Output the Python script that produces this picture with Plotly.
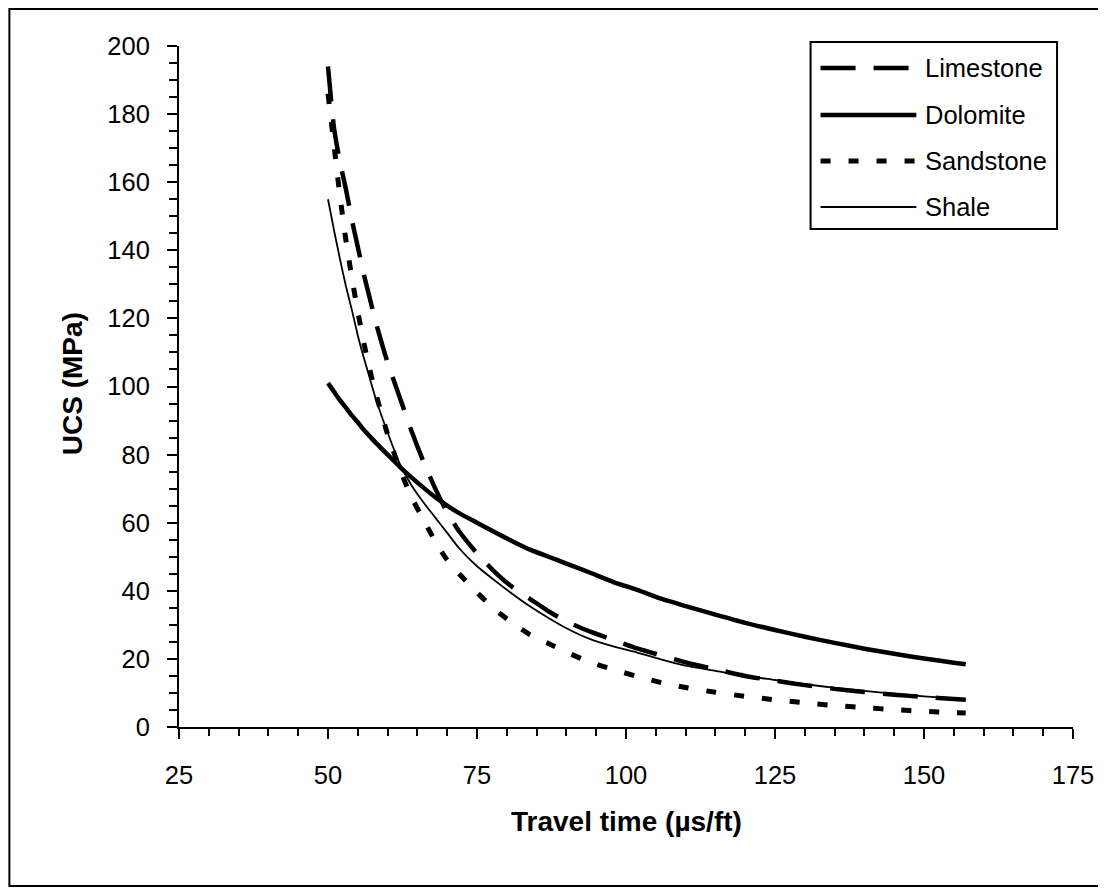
import plotly.graph_objects as go

# ---- data ----
travel_time = [50, 51, 52, 53, 54, 55, 56, 57, 58, 60, 62, 64, 66, 68, 70, 72, 75, 78, 81, 84,
               87, 90, 94, 98, 102, 106, 110, 115, 120, 125, 130, 135, 140, 145, 150, 155, 157]
limestone = [194, 176, 166, 158, 149, 141, 133, 126, 119, 107, 97, 87, 78, 70, 63, 57.5, 51, 45.5, 41, 37.5,
             34, 31, 28, 25.5, 23, 21, 19, 17, 15, 13.6, 12.3, 11.2, 10.3, 9.5, 8.8, 8.2, 8.0]
dolomite = [101, 98.5, 96, 93.8, 91.5, 89.5, 87.3, 85.4, 83.5, 80, 76.5, 73.3, 70.3, 67.5, 65, 62.8, 60, 57.2, 54.5, 52,
            50, 48, 45.3, 42.5, 40.2, 37.6, 35.5, 33, 30.6, 28.5, 26.5, 24.7, 23, 21.5, 20.1, 18.9, 18.4]
sandstone = [186, 171, 156, 143, 132, 122, 113, 105, 98, 86, 76, 67.5, 61, 54.5, 49, 45, 39.5, 34.5, 30.5, 27,
             24.5, 22, 19, 16.8, 14.8, 13, 11.6, 10.2, 9, 8, 7.1, 6.3, 5.7, 5.1, 4.6, 4.2, 4.1]
shale = [155, 146, 137.5, 129.5, 122.5, 115, 108.5, 102.5, 96.5, 86.5, 77.5, 71, 66, 61.5, 57, 52.5, 47.2, 43, 39, 35.3,
         32, 29, 25.8, 23.6, 21.8, 19.8, 18, 16.5, 15, 13.8, 12.6, 11.5, 10.6, 9.8, 9, 8.4, 8.1]

names = ["Limestone", "Dolomite", "Sandstone", "Shale"]
series = [limestone, dolomite, sandstone, shale]
x_ticks = [25, 50, 75, 100, 125, 150, 175]
y_ticks = [0, 20, 40, 60, 80, 100, 120, 140, 160, 180, 200]

styles = {
    "Limestone": dict(color="black", width=4.5, dash="35px,18px"),
    "Dolomite": dict(color="black", width=4.5, dash="solid"),
    "Sandstone": dict(color="black", width=5, dash="10px,18px"),
    "Shale": dict(color="black", width=1.8, dash="solid"),
}

FONT = "Liberation Sans, Arial, sans-serif"
OFF = 8                      # the page body has an 8px margin
W, H = 1106 - OFF, 888 - OFF
# plot area in page pixels
L, R, T, B = 179, 1075, 46, 727


def px(xp):
    return (xp - L) / (R - L)


def py(yp):
    return (B - yp) / (B - T)


fig = go.Figure()
for name, vals in zip(names, series):
    fig.add_trace(go.Scatter(x=travel_time, y=vals, mode="lines", name=name,
                             line=dict(shape="spline", smoothing=0.6, **styles[name]),
                             showlegend=False, hoverinfo="skip"))

shapes = []
annotations = []
# outer chart border (kept inside the figure area)
shapes.append(dict(type="rect", xref="paper", yref="paper",
                   x0=px(OFF + 1), x1=px(1103), y0=py(886), y1=py(OFF + 1),
                   line=dict(color="black", width=2), fillcolor="rgba(0,0,0,0)", layer="below"))
# legend box
shapes.append(dict(type="rect", xref="paper", yref="paper",
                   x0=px(812), x1=px(1059), y0=py(229), y1=py(42),
                   line=dict(color="black", width=2), fillcolor="white", layer="above"))
row_y = [68, 115, 161, 207]
for name, yy in zip(names, row_y):
    st = styles[name]
    shapes.append(dict(type="line", xref="paper", yref="paper",
                       x0=px(822), x1=px(918), y0=py(yy), y1=py(yy),
                       line=dict(color="black", width=st["width"], dash=st["dash"]), layer="above"))
    annotations.append(dict(text=name, xref="paper", yref="paper", x=px(925), y=py(yy),
                            xanchor="left", yanchor="middle", showarrow=False,
                            font=dict(family=FONT, size=25.5, color="black")))

annotations.append(dict(text="<b>UCS (MPa)</b>", xref="paper", yref="paper", x=px(72), y=py(384),
                        textangle=-90, xanchor="center", yanchor="middle", showarrow=False,
                        font=dict(family=FONT, size=28, color="black")))
annotations.append(dict(text="<b>Travel time (µs/ft)</b>", xref="paper", yref="paper", x=px(627), y=py(821),
                        xanchor="center", yanchor="middle", showarrow=False,
                        font=dict(family=FONT, size=28, color="black")))

fig.update_layout(
    width=W, height=H,
    margin=dict(l=L - OFF, r=W - (R - OFF), t=T - OFF, b=H - (B - OFF), pad=0),
    paper_bgcolor="white", plot_bgcolor="white",
    shapes=shapes, annotations=annotations,
    font=dict(family=FONT, size=25.5, color="black"),
)
fig.update_xaxes(range=[25, 175], tickvals=x_ticks, ticks="outside", ticklen=10, tickwidth=2,
                 tickcolor="black", showline=True, linecolor="black", linewidth=2, showgrid=False,
                 zeroline=False, ticklabelstandoff=14,
                 minor=dict(dtick=5, tick0=25, ticks="outside", ticklen=7, tickwidth=2, tickcolor="black",
                            showgrid=False),
                 tickfont=dict(family=FONT, size=25.5, color="black"))
fig.update_yaxes(range=[0, 200], tickvals=y_ticks, ticks="outside", ticklen=10, tickwidth=2,
                 tickcolor="black", showline=True, linecolor="black", linewidth=2, showgrid=False,
                 zeroline=False, ticklabelstandoff=12,
                 minor=dict(dtick=5, tick0=0, ticks="outside", ticklen=8, tickwidth=2, tickcolor="black",
                            showgrid=False),
                 tickfont=dict(family=FONT, size=25.5, color="black"))

fig.write_html("out.html")
